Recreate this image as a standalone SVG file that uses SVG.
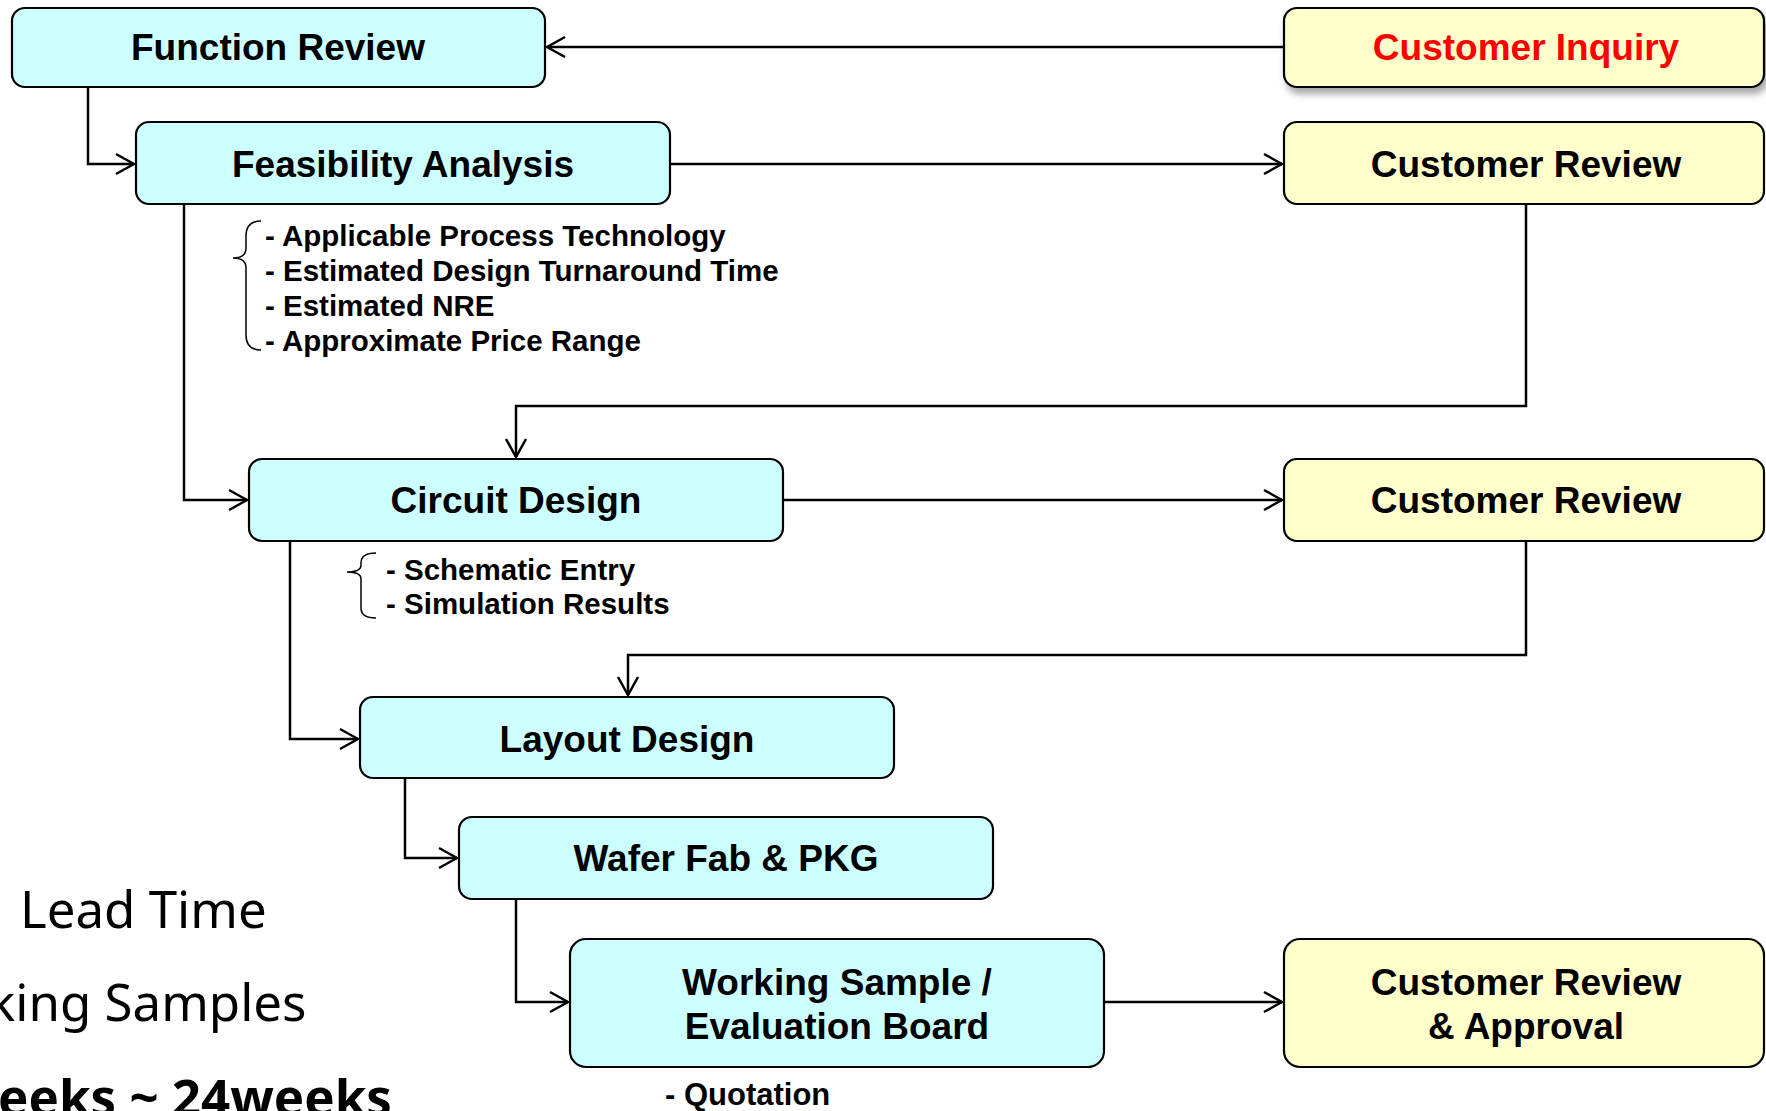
<svg xmlns="http://www.w3.org/2000/svg" width="1766" height="1111" viewBox="0 0 1766 1111">
<style>
.box{stroke:#000;stroke-width:2.2}
.c{fill:#CCFFFF}
.y{fill:#FFFFCC}
.t{font-family:"Liberation Sans",Arial,sans-serif;font-weight:bold;font-size:37px;fill:#000;text-anchor:middle}
.b{font-family:"Liberation Sans",Arial,sans-serif;font-weight:bold;font-size:29.5px;fill:#000}
.k{font-family:"Noto Sans",sans-serif;font-size:51px;fill:#000}
.ln{fill:none;stroke:#000;stroke-width:2.5}
.br{fill:none;stroke:#000;stroke-width:1.5}
</style>
<defs>
<marker id="arr" viewBox="-22 -12 24 24" refX="0" refY="0" markerWidth="24" markerHeight="24" markerUnits="userSpaceOnUse" orient="auto">
<path d="M-18,-10 L0,0 L-18,10" fill="none" stroke="#000" stroke-width="2.5"/>
</marker>
<filter id="sh" x="-5%" y="-20%" width="115%" height="160%">
<feDropShadow dx="3" dy="6" stdDeviation="3.5" flood-color="#000" flood-opacity="0.35"/>
</filter>
</defs>
<rect width="1766" height="1111" fill="#fff"/>

<g id="connectors">
<path class="ln" d="M1284,47 H547" marker-end="url(#arr)"/>
<path class="ln" d="M88,87 V164 H134" marker-end="url(#arr)"/>
<path class="ln" d="M670,164 H1282" marker-end="url(#arr)"/>
<path class="ln" d="M184,204 V500 H247" marker-end="url(#arr)"/>
<path class="ln" d="M1526,204 V406 H516 V457" marker-end="url(#arr)"/>
<path class="ln" d="M783,500 H1282" marker-end="url(#arr)"/>
<path class="ln" d="M290,541 V739 H358" marker-end="url(#arr)"/>
<path class="ln" d="M1526,541 V655 H628 V695" marker-end="url(#arr)"/>
<path class="ln" d="M405,778 V858 H457" marker-end="url(#arr)"/>
<path class="ln" d="M516,899 V1002 H568" marker-end="url(#arr)"/>
<path class="ln" d="M1104,1002 H1282" marker-end="url(#arr)"/>
</g>

<g id="function-review">
<rect class="box c" x="12" y="8" width="533" height="79" rx="13"/>
<text class="t" x="278" y="60">Function Review</text>
</g>
<g id="customer-inquiry">
<rect class="box y" x="1284" y="8" width="480" height="79" rx="13" filter="url(#sh)"/>
<text class="t" x="1526" y="60" fill="#FF0000" style="fill:#FF0000">Customer Inquiry</text>
</g>
<g id="feasibility-analysis">
<rect class="box c" x="136" y="122" width="534" height="82" rx="13"/>
<text class="t" x="403" y="177">Feasibility Analysis</text>
</g>
<g id="customer-review-1">
<rect class="box y" x="1284" y="122" width="480" height="82" rx="13"/>
<text class="t" x="1526" y="177">Customer Review</text>
</g>
<g id="feasibility-notes">
<path class="br" d="M261,221 Q246,221 246,236 V248 Q246,258 233,258 Q246,258 246,268 V335 Q246,350 261,350"/>
<text class="b" x="265" y="246">- Applicable Process Technology</text>
<text class="b" x="265" y="281">- Estimated Design Turnaround Time</text>
<text class="b" x="265" y="316">- Estimated NRE</text>
<text class="b" x="265" y="351">- Approximate Price Range</text>
</g>
<g id="circuit-design">
<rect class="box c" x="249" y="459" width="534" height="82" rx="13"/>
<text class="t" x="516" y="513">Circuit Design</text>
</g>
<g id="customer-review-2">
<rect class="box y" x="1284" y="459" width="480" height="82" rx="13"/>
<text class="t" x="1526" y="513">Customer Review</text>
</g>
<g id="circuit-notes">
<path class="br" d="M376,553 Q361,553 361,563 V565 Q361,572 347,572 Q361,572 361,579 V608 Q361,618 376,618"/>
<text class="b" x="386" y="580">- Schematic Entry</text>
<text class="b" x="386" y="614">- Simulation Results</text>
</g>
<g id="layout-design">
<rect class="box c" x="360" y="697" width="534" height="81" rx="13"/>
<text class="t" x="627" y="752">Layout Design</text>
</g>
<g id="wafer-fab">
<rect class="box c" x="459" y="817" width="534" height="82" rx="13"/>
<text class="t" x="726" y="871">Wafer Fab &amp; PKG</text>
</g>
<g id="working-sample">
<rect class="box c" x="570" y="939" width="534" height="128" rx="16"/>
<text class="t" x="837" y="995">Working Sample /</text>
<text class="t" x="837" y="1039">Evaluation Board</text>
</g>
<g id="customer-review-approval">
<rect class="box y" x="1284" y="939" width="480" height="128" rx="16"/>
<text class="t" x="1526" y="995">Customer Review</text>
<text class="t" x="1526" y="1039">&amp; Approval</text>
</g>
<g id="quotation">
<text class="b" x="665" y="1105" style="font-size:31px">- Quotation</text>
</g>
<g id="lead-time">
<text class="k" x="20" y="928">Lead Time</text>
<text class="k" x="-12" y="1021">king Samples</text>
<text class="k" x="-2" y="1116" font-weight="bold">eeks ~ 24weeks</text>
</g>
</svg>
